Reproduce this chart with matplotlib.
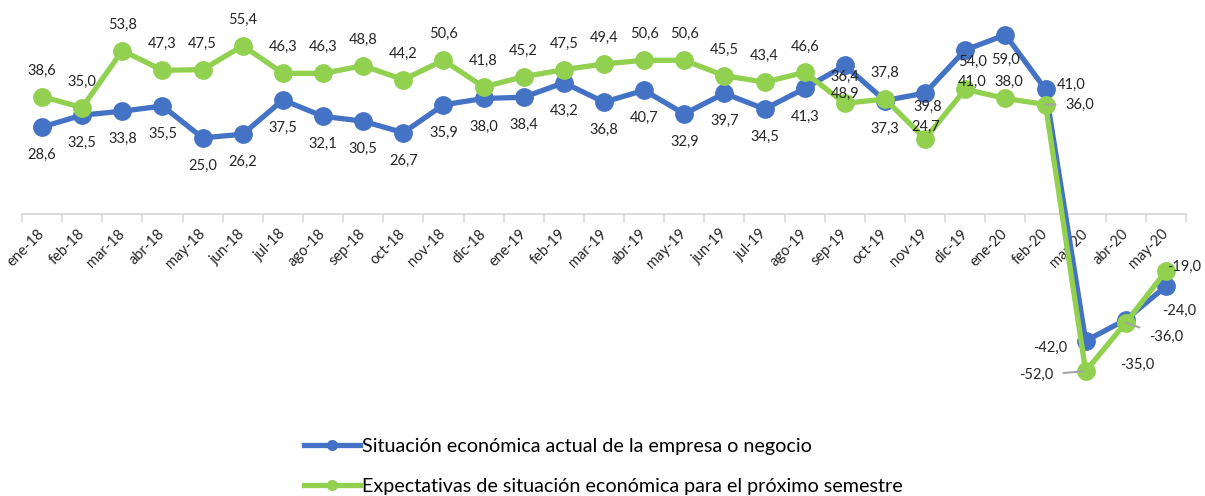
import numpy as np
import matplotlib
matplotlib.use('Agg')
import matplotlib.pyplot as plt
from matplotlib.ticker import FixedLocator

# === Data ===
months = ['ene-18', 'feb-18', 'mar-18', 'abr-18', 'may-18', 'jun-18', 'jul-18', 'ago-18',
          'sep-18', 'oct-18', 'nov-18', 'dic-18', 'ene-19', 'feb-19', 'mar-19', 'abr-19',
          'may-19', 'jun-19', 'jul-19', 'ago-19', 'sep-19', 'oct-19', 'nov-19', 'dic-19',
          'ene-20', 'feb-20', 'mar-20', 'abr-20', 'may-20']
actual = [28.6, 32.5, 33.8, 35.5, 25.0, 26.2, 37.5, 32.1, 30.5, 26.7, 35.9, 38.0, 38.4, 43.2,
          36.8, 40.7, 32.9, 39.7, 34.5, 41.3, 48.9, 37.3, 39.8, 54.0, 59.0, 41.0, -42.0, -35.0, -24.0]
expect = [38.6, 35.0, 53.8, 47.3, 47.5, 55.4, 46.3, 46.3, 48.8, 44.2, 50.6, 41.8, 45.2, 47.5,
          49.4, 50.6, 50.6, 45.5, 43.4, 46.6, 36.4, 37.8, 24.7, 41.0, 38.0, 36.0, -52.0, -36.0, -19.0]
name_actual = 'Situación económica actual de la empresa o negocio'
name_expect = 'Expectativas de situación económica para el próximo semestre'

BLUE = '#4472C4'
GREEN = '#92D050'
GREY = '#A6A6A6'
FONT = 'Lato'

# label offsets in pixels (dx, dy, y up positive); default blue below, green above
off_a = {22: (3, -14), 23: (7, -12), 24: (0, -25), 25: (26, 4), 26: (-35, -7), 27: (11, -45), 28: (13, -25)}
off_e = {22: (1, 12), 23: (7, 7), 24: (3, 17), 25: (34, 0), 26: (-49, -4), 27: (40, -14), 28: (18, 4)}
# leader lines (shrink from text, shrink from point) in points
leader_e = {25: (5, 0), 26: (5, 2), 27: (5, 0)}

x = np.arange(len(months))

fig = plt.figure(figsize=(12.05, 4.96), dpi=100)
ax = fig.add_axes([22 / 1205, (496 - 400) / 496, 1164 / 1205, 390 / 496])
ax.set_xlim(-0.5, len(months) - 0.5)
ax.set_ylim((213.6 - 400) / 3.03, (213.6 - 10) / 3.03)

ax.plot(x, actual, color=BLUE, lw=3.8, marker='o', ms=12.5, zorder=3)
ax.plot(x, expect, color=GREEN, lw=3.8, marker='o', ms=12.5, zorder=4)

for i in range(len(months)):
    dx, dy = off_a.get(i, (0, -28))
    ax.annotate(f'{actual[i]:.1f}'.replace('.', ','), (x[i], actual[i]), xytext=(dx, dy),
                textcoords='offset pixels', ha='center', va='center', fontsize=10.5,
                family=FONT, color='#262626', zorder=6)
    dx, dy = off_e.get(i, (0, 26))
    arrow = None
    if i in leader_e:
        sa, sb = leader_e[i]
        arrow = dict(arrowstyle='-', color=GREY, lw=1.5, shrinkA=sa, shrinkB=sb)
    ax.annotate(f'{expect[i]:.1f}'.replace('.', ','), (x[i], expect[i]), xytext=(dx, dy),
                textcoords='offset pixels', ha='center', va='center', fontsize=10.5,
                family=FONT, color='#262626', zorder=6, arrowprops=arrow)

for s in ['top', 'right', 'left']:
    ax.spines[s].set_visible(False)
ax.spines['bottom'].set_position(('data', 0))
ax.spines['bottom'].set_color('#D9D9D9')
ax.spines['bottom'].set_linewidth(1.3)
ax.set_yticks([])
ax.set_xticks(x)
ax.set_xticklabels(months, rotation=45, ha='right', va='center', rotation_mode='anchor',
                   fontsize=10.5, family=FONT, color='#262626')
ax.tick_params(axis='x', which='major', length=0, pad=13)
ax.xaxis.set_minor_locator(FixedLocator(np.arange(-0.5, len(months), 1.0)))
ax.tick_params(axis='x', which='minor', length=6, color='#D9D9D9', width=1.3)

h1, = ax.plot([], [], color=BLUE, lw=3.8, marker='o', ms=7)
h2, = ax.plot([], [], color=GREEN, lw=3.8, marker='o', ms=7)
fig.legend([h1, h2], [name_actual, name_expect], loc='upper left',
           bbox_to_anchor=(294 / 1205, 1 - 428 / 496), frameon=False,
           prop={'family': FONT, 'size': 14.2}, handlelength=2.85, handletextpad=0.1,
           labelspacing=1.15, borderpad=0)

fig.savefig('out.png', dpi=100)
